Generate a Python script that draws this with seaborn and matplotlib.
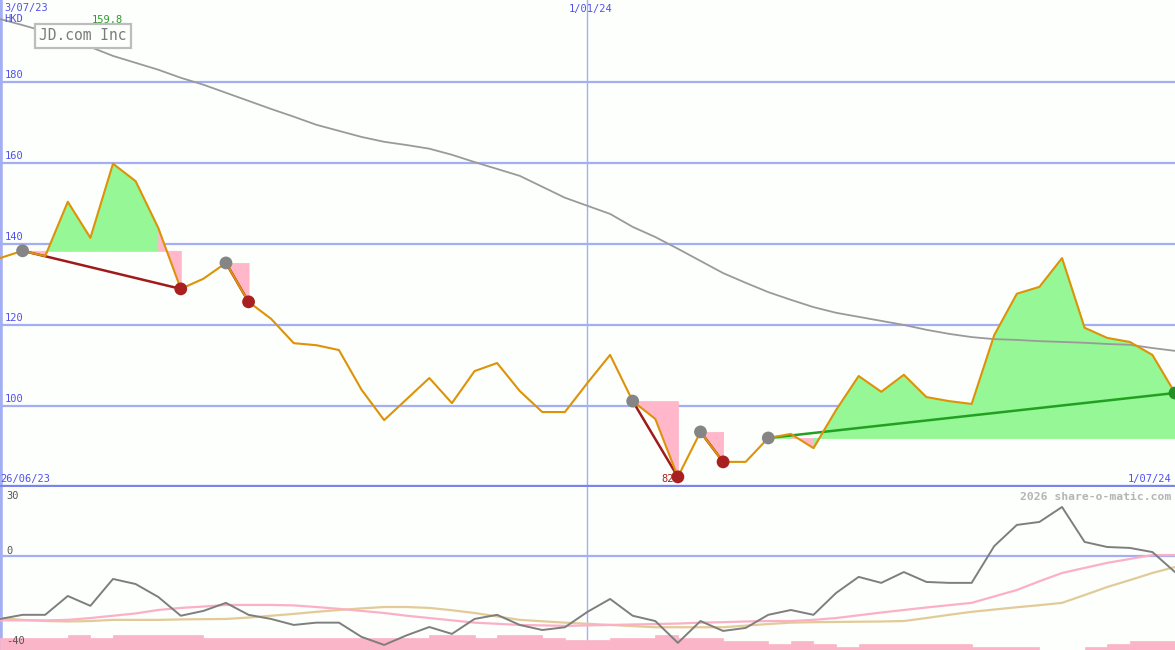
import numpy as np
import pandas as pd
import matplotlib
matplotlib.use("Agg")
import matplotlib.pyplot as plt
import seaborn as sns

# weekly closes, HKD
price = [136.5, 138.3, 137.0, 150.4, 141.5, 159.8, 155.5, 144.0, 128.9, 131.4,
         135.3, 125.7, 121.5, 115.5, 115.0, 113.8, 104.0, 96.5, 101.7, 106.9,
         100.7, 108.6, 110.6, 103.7, 98.5, 98.5, 105.7, 112.6, 101.2, 96.8,
         82.5, 93.6, 86.2, 86.2, 92.1, 93.1, 89.6, 99.0, 107.4, 103.5,
         107.7, 102.2, 101.2, 100.5, 117.5, 127.7, 129.4, 136.5, 119.3, 116.8,
         115.8, 112.6, 103.2]

# slow moving average (grey)
avg = [195.5, 194.0, 192.4, 190.6, 188.6, 186.4, 184.7, 183.0, 181.0, 179.3,
       177.3, 175.3, 173.3, 171.4, 169.4, 167.9, 166.4, 165.2, 164.4, 163.5,
       162.0, 160.2, 158.5, 156.8, 154.1, 151.4, 149.4, 147.4, 144.2, 141.7,
       138.8, 135.8, 132.8, 130.4, 128.1, 126.2, 124.4, 123.0, 122.0, 121.0,
       120.0, 118.8, 117.8, 117.0, 116.5, 116.3, 116.0, 115.8, 115.6, 115.3,
       115.1, 114.3, 113.6]

# lower panel oscillator and its two averages
osc = [-27.4, -25.6, -25.6, -17.4, -21.7, -10.0, -12.2, -17.8, -26.0, -23.9,
       -20.4, -25.6, -27.4, -30.0, -29.0, -29.0, -35.2, -38.7, -34.5, -30.9,
       -33.9, -27.4, -25.6, -30.0, -32.2, -31.0, -24.3, -18.7, -26.0, -28.3,
       -37.8, -28.3, -32.6, -31.3, -25.6, -23.5, -25.6, -16.1, -9.1, -11.7,
       -7.0, -11.3, -11.7, -11.7, 4.3, 13.5, 14.8, 21.3, 6.1, 3.9,
       3.5, 1.7, -7.0]
osc_fast = [-28.0, -28.0, -28.0, -27.8, -27.0, -26.0, -25.0, -23.5, -22.6, -22.0,
            -21.3, -21.3, -21.3, -21.5, -22.2, -23.0, -23.9, -24.8, -26.0, -27.0,
            -28.0, -29.0, -29.5, -30.0, -30.2, -30.4, -30.2, -30.0, -29.8, -29.6,
            -29.4, -29.0, -28.8, -28.5, -28.3, -28.3, -27.8, -27.0, -25.8, -24.6,
            -23.5, -22.4, -21.4, -20.4, -17.6, -14.8, -11.0, -7.4, -5.2, -3.0,
            -1.3, 0.4, 0.4]
osc_slow = [-27.0, -27.8, -28.3, -28.5, -28.3, -27.8, -27.8, -27.8, -27.6, -27.5,
            -27.4, -26.8, -26.0, -25.2, -24.3, -23.5, -22.8, -22.2, -22.2, -22.6,
            -23.6, -24.8, -26.3, -27.8, -28.4, -29.0, -29.5, -30.0, -30.5, -31.0,
            -31.0, -31.0, -31.0, -30.3, -29.6, -29.0, -28.8, -28.7, -28.6, -28.5,
            -28.3, -27.0, -25.6, -24.3, -23.3, -22.3, -21.4, -20.4, -17.0, -13.5,
            -10.5, -7.4, -4.8]
# volume bars (top of each weekly bar, in lower-panel units)
vol_top = [-35.7, -35.7, -35.7, -34.3, -35.7, -34.3, -34.3, -34.3, -34.3, -35.7,
           -35.7, -35.7, -35.7, -35.7, -35.7, -35.7, -35.7, -35.7, -35.7, -34.3,
           -34.3, -35.7, -34.3, -34.3, -35.7, -36.5, -36.5, -35.7, -35.7, -34.3,
           -35.7, -35.7, -37.0, -37.0, -38.3, -37.0, -38.3, -39.6, -38.3, -38.3,
           -38.3, -38.3, -38.3, -39.6, -39.6, -39.6, -40.9, -40.9, -39.6, -38.3,
           -37.0, -37.0]

# signals: start week (grey dot), end week, direction
sig_start = [1, 10, 28, 31, 34]
sig_end = [8, 11, 30, 32, 52]
sig_dir = ["down", "down", "down", "down", "up"]

dates = pd.date_range("2023-07-03", periods=len(price), freq="7D")
price = np.array(price)

sns.set_style("white")
plt.rcParams["font.family"] = ["DejaVu Sans Mono", "DejaVu Sans"]

BG = "#fcfffc"
GRID = "#a4aef4"
BLUE = "#5050ee"
GREEN_FILL = "#95f795"
PINK_FILL = "#ffb7c9"

fig = plt.figure(figsize=(11.75, 6.5), dpi=100, facecolor=BG)
ax1 = fig.add_axes([0, 163 / 650, 1, 487 / 650])
ax2 = fig.add_axes([0, 0, 1, 163 / 650])
for ax in (ax1, ax2):
    ax.set_facecolor(BG)
    for s in ax.spines.values():
        s.set_visible(False)
    ax.set_xticks([])
    ax.set_yticks([])
    ax.set_xlim(dates[0], dates[-1])
    ax.axvline(pd.Timestamp("2024-01-01"), color=GRID, lw=1, zorder=0.5)
    ax.axvline(dates[0], color=GRID, lw=4, zorder=0.5)
    ax.set_xlabel("")
    ax.set_ylabel("")

ax1.set_ylim(80, 200.2)
ax2.set_ylim(-40.9, 30)

for v in [100, 120, 140, 160, 180]:
    ax1.axhline(v, color=GRID, lw=1.6, zorder=0.6)
ax1.axhline(80.35, color="#7a84ee", lw=2.4, zorder=6)
ax2.axhline(0, color=GRID, lw=1.6, zorder=0.6)

# signal fills (edge in same colour hides seams between the weekly pieces)
for s, e, d in zip(sig_start, sig_end, sig_dir):
    level = price[s]
    for i in range(s, e):
        col = GREEN_FILL if price[i + 1] >= level else PINK_FILL
        ax1.fill_between(dates[i:i + 2], level, price[i:i + 2], facecolor=col,
                         edgecolor=col, lw=0.6, zorder=1)

sns.lineplot(x=dates, y=avg, ax=ax1, color="#9a9a9a", lw=1.3, zorder=2)

for s, e, d in zip(sig_start, sig_end, sig_dir):
    col = "#a01a1a" if d == "down" else "#22a022"
    sns.lineplot(x=[dates[s], dates[e]], y=[price[s], price[e]], ax=ax1,
                 color=col, lw=1.8, zorder=3)

sns.lineplot(x=dates, y=price, ax=ax1, color="#de9208", lw=1.5, zorder=4)

sns.scatterplot(x=dates[sig_start], y=price[sig_start], ax=ax1, color="#858585",
                s=85, edgecolor="none", zorder=5)
for e, d in zip(sig_end, sig_dir):
    col = "#a82020" if d == "down" else "#239023"
    sns.scatterplot(x=[dates[e]], y=[price[e]], ax=ax1, color=col, s=85,
                    edgecolor="none", zorder=5)

# lower panel
ax2.bar(dates[:-1], np.array(vol_top) + 40.9, bottom=-40.9, width=7, align="edge",
        color="#fbb5c9", edgecolor="#fbb5c9", lw=0.5, zorder=1)
sns.lineplot(x=dates, y=osc_slow, ax=ax2, color="#e2cb98", lw=1.6, zorder=2)
sns.lineplot(x=dates, y=osc_fast, ax=ax2, color="#fbb0c6", lw=1.6, zorder=2)
sns.lineplot(x=dates, y=osc, ax=ax2, color="#7e7e7e", lw=1.4, zorder=3)


def px(x, y, s, **kw):
    fig.text(x / 1175, 1 - y / 650, s, **kw)


small = dict(fontsize=7.5, va="center")
px(4, 8, "3/07/23", color=BLUE, ha="left", **small)
px(4, 19, "HKD", color=BLUE, ha="left", **small)
imax = int(np.argmax(price))
px(107, 20, f"{price[imax]:.1f}", color="#2a9a2a", ha="center", **small)
px(591, 9, "1/01/24", color=BLUE, ha="center", **small)
for v in [100, 120, 140, 160, 180]:
    ypix = 487 - (v - 80) * 4.05 - 7
    px(5, ypix, str(v), color=BLUE, ha="left", **small)
px(0, 479, "26/06/23", color=BLUE, ha="left", **small)
px(1171, 479, "1/07/24", color=BLUE, ha="right", **small)
imin = int(np.argmin(price))
px(668, 479, f"{int(price[imin])}", color="#a82020", ha="center", **small)
px(83, 36, "JD.com Inc", color="#7a7a7a", ha="center", va="center", fontsize=10.5,
   bbox=dict(boxstyle="square,pad=0.32", fc=BG, ec="#bdbdbd", lw=1.6))
px(6, 496, "30", color="#555555", ha="left", **small)
px(6, 551, "0", color="#555555", ha="left", **small)
px(6, 641, "-40", color="#555555", ha="left", **small)
px(1171, 497, "2026 share-o-matic.com", color="#b5b5b5", ha="right",
   fontsize=8.2, fontweight="bold", va="center")

fig.savefig("out.png", dpi=100, facecolor=BG)
